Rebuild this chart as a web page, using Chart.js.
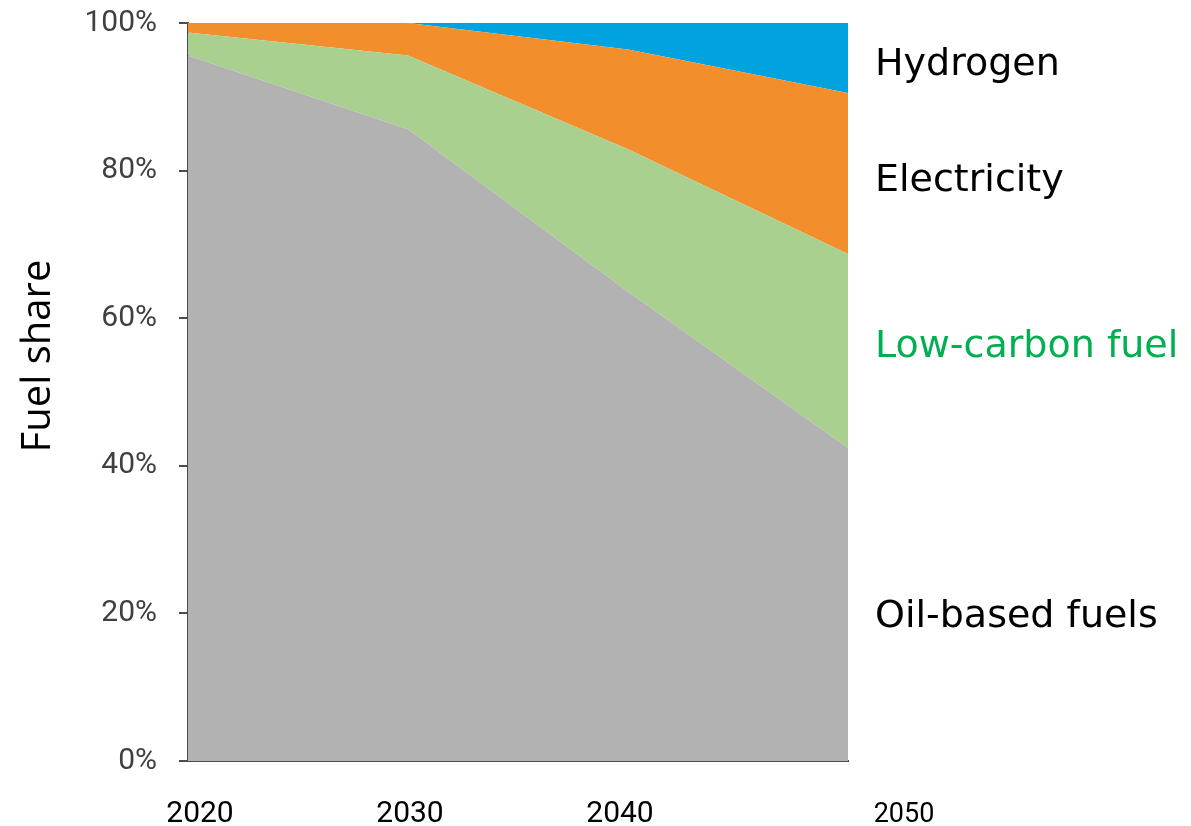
<!DOCTYPE html>
<html>
<head>
<meta charset="utf-8">
<script src="https://cdn.jsdelivr.net/npm/chart.js@4"></script>
<style>
  body { margin: 0; background: #fff; }
  #wrap { width: 1191px; height: 826px; }
</style>
</head>
<body>
<div id="wrap"><canvas id="fuelChart"></canvas></div>
<script>
// values (share of fuel, %)
const years = [2020, 2030, 2040, 2050];
const oilBased = [95.6, 85.6, 63.6, 42.4];
const lowCarbon = [3.1, 10.0, 19.3, 26.3];
const electricity = [1.3, 4.4, 13.5, 21.8];
const hydrogen = [0, 0, 3.6, 9.5];
const yTicks = [0, 20, 40, 60, 80, 100];

const seriesNames = ['Oil-based fuels', 'Low-carbon fuel', 'Electricity', 'Hydrogen'];
const seriesColors = ['#b2b2b2', '#a9d08e', '#f28f2c', '#00a3e0'];
const labelColors = ['#000000', '#00b050', '#000000', '#000000'];
// where the right-hand names sit, in % on the y scale
const labelLevels = [18.1, 54.7, 77.3, 92.9];
// the year labels are not quite under their points in the original
const yearNudge = [12, 2, -8, 56];

const toPoints = (vals) => vals.map((v, i) => ({ x: years[i], y: v }));

const mkSet = (idx, vals) => ({
    label: seriesNames[idx],
    data: toPoints(vals),
    backgroundColor: seriesColors[idx],
    borderWidth: 0,
    pointRadius: 0,
    tension: 0,
    fill: idx === 0 ? 'origin' : '-1'
});

// text outside the plot: year labels, axis title, series names
const textPlugin = {
    id: 'textPlugin',
    afterDraw(chart) {
        const ctx = chart.ctx;
        const xs = chart.scales.x;
        const ys = chart.scales.y;
        const area = chart.chartArea;
        ctx.save();

        // years under the axis
        ctx.fillStyle = '#000';
        ctx.textAlign = 'center';
        ctx.textBaseline = 'alphabetic';
        years.forEach((yr, i) => {
            ctx.font = (i === years.length - 1 ? '27px' : '30px') + ' Roboto';
            ctx.fillText(String(yr), xs.getPixelForValue(yr) + yearNudge[i], 822);
        });

        // y title
        ctx.save();
        ctx.translate(50, 356);
        ctx.rotate(-Math.PI / 2);
        ctx.font = '40px "Open Sans"';
        ctx.fillStyle = '#000';
        ctx.textAlign = 'center';
        ctx.fillText('Fuel share', 0, 0);
        ctx.restore();

        // series names on the right
        ctx.font = '38px "DejaVu Sans"';
        ctx.textAlign = 'left';
        seriesNames.forEach((name, i) => {
            ctx.fillStyle = labelColors[i];
            ctx.fillText(name, area.right + 27, ys.getPixelForValue(labelLevels[i]));
        });
        ctx.restore();
    }
};

const config = {
    type: 'line',
    data: {
        datasets: [
            mkSet(0, oilBased),
            mkSet(1, lowCarbon),
            mkSet(2, electricity),
            mkSet(3, hydrogen)
        ]
    },
    options: {
        responsive: true,
        maintainAspectRatio: false,
        animation: false,
        layout: { padding: { top: 23, right: 343, left: 0, bottom: 0 } },
        plugins: {
            legend: { display: false },
            tooltip: { enabled: false },
            filler: { propagate: false }
        },
        scales: {
            x: {
                type: 'linear',
                min: 2020,
                max: 2050,
                grid: { display: false },
                border: { display: true, color: '#4d4d4d', width: 2 },
                ticks: { display: false },
                afterFit: (s) => {
                    s.height = 65;
                    s.paddingLeft = 0;
                    s.paddingRight = 0;
                }
            },
            y: {
                stacked: true,
                min: 0,
                max: 100,
                afterBuildTicks: (s) => { s.ticks = yTicks.map(v => ({ value: v })); },
                grid: {
                    display: true,
                    drawOnChartArea: false,
                    drawTicks: true,
                    tickLength: 9,
                    color: '#4d4d4d',
                    lineWidth: 2
                },
                border: { display: true, color: '#4d4d4d', width: 2 },
                ticks: {
                    padding: 22,
                    color: '#404040',
                    font: { family: 'Roboto', size: 30 },
                    callback: (v) => v + '%'
                },
                afterFit: (s) => {
                    s.width = 188;
                    s.paddingTop = 0;
                    s.paddingBottom = 0;
                }
            }
        }
    },
    plugins: [textPlugin]
};

new Chart(document.getElementById('fuelChart'), config);
</script>
</body>
</html>
